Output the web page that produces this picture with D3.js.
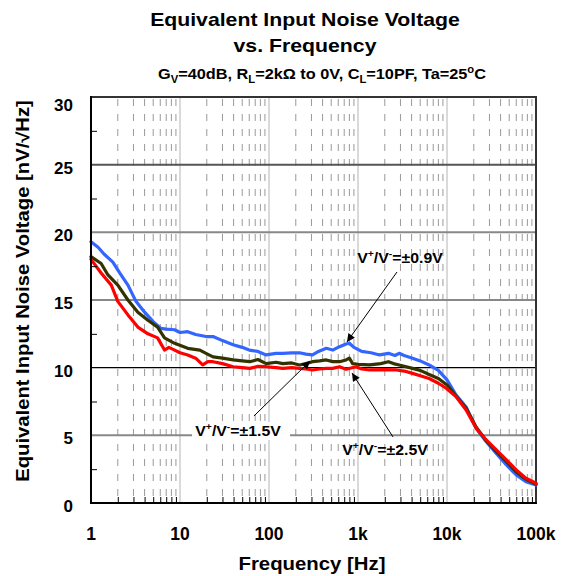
<!DOCTYPE html>
<html><head><meta charset="utf-8">
<script src="https://cdn.jsdelivr.net/npm/d3@7/dist/d3.min.js"></script>
<style>body{margin:0;background:#fff}svg{display:block}text{font-family:"Liberation Sans",Arial,sans-serif;font-weight:bold}</style>
</head><body><svg id="c" width="562" height="576"></svg>
<script>
const xTickValues = [1, 10, 100, 1000, 10000, 100000];
const xTickLabels = ["1", "10", "100", "1k", "10k", "100k"];
const yTickValues = [0, 5, 10, 15, 20, 25, 30];

const freqBlue = [1,1.2,1.4,1.76,2.1,2.6,3.2,4.0,5.0,6.1,7,8.7,10,12.2,15,19.6,23.5,30,39.5,50,60,75,93,120,143,180,220,260,308,360,440,520,620,735,800,900,1100,1400,1750,2200,2600,2900,3300,4100,5000,6300,8000,10000,12600,16400,21300,27600,35800,46500,60000,77000,100000];
const valBlue  = [19.3,18.9,18.4,17.8,17.0,16.1,14.9,14.1,13.4,12.9,12.85,12.8,12.6,12.66,12.45,12.3,12.3,12.0,11.7,11.5,11.3,11.2,10.94,11.05,11.06,11.1,11.1,11.0,10.94,11.2,11.43,11.3,11.55,11.75,11.8,11.5,11.2,11.1,10.94,11.06,10.9,11.06,10.9,10.7,10.5,10.2,9.8,9.1,8.0,7.1,5.5,4.53,3.67,2.81,2.07,1.58,1.33];

const freqOlive = [1,1.3,1.55,2.0,2.6,3.36,4.36,5.6,6.7,8.7,12.2,16.7,19.6,23.5,30,39.5,50,60.8,75,93,120,143,180,220,260,308,370,440,520,620,735,800,870,1000,1350,1800,2200,2500,2900,4100,5000,6300,8000,10100,12600,16400,21300,27600,35800,46500,60000,77000,100000];
const valOlive  = [18.2,17.7,16.85,16.1,15.0,14.1,13.5,13.0,12.2,11.8,11.43,11.3,11.06,10.8,10.7,10.57,10.5,10.44,10.6,10.3,10.4,10.3,10.35,10.2,10.3,10.44,10.5,10.57,10.45,10.44,10.57,10.7,10.3,10.25,10.2,10.3,10.44,10.3,10.2,9.95,9.8,9.5,9.2,8.7,7.9,7.0,5.6,4.6,3.8,3.05,2.3,1.75,1.4];

const freqRed = [1,1.3,1.69,2.0,2.6,3.36,4.36,5.6,6.7,7.5,8.7,10,12.2,15,18,20.6,23.5,30,39.5,50,60.8,75,93,120,143,180,220,260,308,370,440,520,620,735,950,1100,1350,2000,2700,3300,4100,5000,6300,8000,9800,12600,16400,21300,27600,35800,46500,60000,77000,100000];
const valRed  = [18.0,17.0,16.1,14.9,13.9,13.0,12.5,12.2,11.3,11.5,11.3,11.1,10.94,10.7,10.2,10.44,10.44,10.3,10.07,10.0,9.95,10.1,10.07,10.0,9.95,10.0,9.95,9.9,9.83,9.9,9.95,9.95,10.07,9.88,10.07,9.9,9.83,9.85,9.83,9.75,9.58,9.4,9.2,8.85,8.48,7.86,6.87,5.52,4.66,3.92,3.18,2.44,1.83,1.46];

const seriesNames = ["±0.9V", "±1.5V", "±2.5V"];
const seriesColors = ["#3366ff", "#333300", "#ff0000"];

// annotations in data coordinates
const annotLabel = ["±0.9V", "±1.5V", "±2.5V"];
const annotText = [[2965, 17.73], [44.9, 4.95], [2010, 3.55]];
const annotArrow = [[2742, 17.07, 752, 11.9], [67.8, 6.43, 289, 10.49], [2473, 4.88, 857, 9.6]];

const svg = d3.select("#c");
const L = 91, R = 536, T = 97, B = 503;
const x = d3.scaleLog().domain([1, 100000]).range([L, R]);
const y = d3.scaleLinear().domain([0, 30]).range([B, T]);

// stretch a text (anchored middle at 0,0) to a target width
function fit(sel, cx, cy, w, rot) {
  const bw = sel.node().getBBox().width;
  const s = w / bw;
  sel.attr("transform", `translate(${cx},${cy})${rot ? " rotate(-90)" : ""} scale(${s},1)`);
}

// minor vertical dashed grid
const minors = [];
for (let d = 1; d < 100000; d *= 10) for (let k = 2; k <= 9; k++) minors.push(d * k);
svg.append("g").selectAll("line").data(minors).join("line")
  .attr("x1", d => x(d)).attr("x2", d => x(d)).attr("y1", T + 2).attr("y2", B)
  .attr("stroke", "#999").attr("stroke-width", 1).attr("stroke-dasharray", "7,8");
// decade lines
svg.append("g").selectAll("line").data([10, 100, 1000, 10000]).join("line")
  .attr("x1", d => x(d)).attr("x2", d => x(d)).attr("y1", T).attr("y2", B)
  .attr("stroke", "#b4b4b4").attr("stroke-width", 1);
// horizontal grid
svg.append("g").selectAll("line").data([5, 15, 20, 25]).join("line")
  .attr("x1", L).attr("x2", R).attr("y1", d => y(d)).attr("y2", d => y(d))
  .attr("stroke", d => d === 25 ? "#555" : "#888").attr("stroke-width", 2);
svg.append("line").attr("x1", L).attr("x2", R).attr("y1", y(10)).attr("y2", y(10))
  .attr("stroke", "#000").attr("stroke-width", 1.2);
// borders
svg.append("line").attr("x1", L).attr("x2", R + 1).attr("y1", T).attr("y2", T).attr("stroke", "#333").attr("stroke-width", 2);
svg.append("line").attr("x1", R).attr("x2", R).attr("y1", T).attr("y2", B).attr("stroke", "#333").attr("stroke-width", 2);

// curves
const line = d3.line().x(d => x(d[0])).y(d => y(d[1])).curve(d3.curveLinear);
const series = [d3.zip(freqBlue, valBlue), d3.zip(freqOlive, valOlive), d3.zip(freqRed, valRed)];
svg.append("g").selectAll("path").data(series).join("path")
  .attr("d", line).attr("fill", "none")
  .attr("stroke", (d, i) => seriesColors[i]).attr("stroke-width", 3.2)
  .attr("stroke-linejoin", "round").attr("stroke-linecap", "round");

// axes
const gx = svg.append("g").attr("transform", `translate(0,${B})`).call(d3.axisBottom(x).tickValues(minors).tickSize(-6).tickFormat(""));
gx.select(".domain").remove();
gx.selectAll(".tick line").attr("stroke", "#000");
svg.append("line").attr("x1", L - 1).attr("x2", R + 1).attr("y1", B).attr("y2", B).attr("stroke", "#000").attr("stroke-width", 2);
const yMinor = d3.range(2.5, 30, 5);
const gy = svg.append("g").attr("transform", `translate(${L},0)`).call(d3.axisLeft(y).tickValues(yMinor).tickSize(-6).tickFormat(""));
gy.select(".domain").remove();
gy.selectAll(".tick line").attr("stroke", "#000");
svg.append("line").attr("x1", L).attr("x2", L).attr("y1", T - 1).attr("y2", B + 1).attr("stroke", "#000").attr("stroke-width", 2);

// tick labels
svg.append("g").selectAll("text").data(xTickValues).join("text")
  .attr("x", d => x(d)).attr("y", 540).attr("text-anchor", "middle")
  .attr("font-size", 17.5).text((d, i) => xTickLabels[i]);
svg.append("g").selectAll("text").data(yTickValues).join("text")
  .attr("x", 73).attr("y", d => y(d) + (d === 30 ? 14 : 9)).attr("text-anchor", "end")
  .attr("font-size", 17).text(d => d);

// axis titles
fit(svg.append("text").attr("text-anchor", "middle").attr("font-size", 18).text("Frequency [Hz]"), 312, 570, 147);
fit(svg.append("text").attr("text-anchor", "middle").attr("font-size", 17.5).text("Equivalent Input Noise Voltage [nV/√Hz]"), 29, 291, 382, true);

// titles
fit(svg.append("text").attr("text-anchor", "middle").attr("font-size", 18).text("Equivalent Input Noise Voltage"), 305, 26, 310);
fit(svg.append("text").attr("text-anchor", "middle").attr("font-size", 18).text("vs. Frequency"), 305, 52, 143);
const sub = svg.append("text").attr("text-anchor", "middle").attr("font-size", 14.5);
[["G", 0], ["V", 1], ["=40dB, R", 0], ["L", 1], ["=2kΩ to 0V, C", 0], ["L", 1], ["=10PF, Ta=25", 0], ["o", -1], ["C", 0]].forEach(([t, s], i, arr) => {
  const ts = sub.append("tspan").text(t);
  const prev = i > 0 ? arr[i - 1][1] : 0;
  if (s === 1) ts.attr("font-size", 10).attr("dy", 4);
  else if (s === -1) ts.attr("font-size", 10).attr("dy", -6);
  else ts.attr("dy", prev === 1 ? -4 : prev === -1 ? 6 : 0);
});
fit(sub, 322, 79, 329);

// annotations
const defs = svg.append("defs");
defs.append("marker").attr("id", "ah").attr("viewBox", "0 0 10 10").attr("refX", 10).attr("refY", 5)
  .attr("markerWidth", 11).attr("markerHeight", 8).attr("markerUnits", "userSpaceOnUse").attr("orient", "auto")
  .append("path").attr("d", "M0,0 L10,5 L0,10 z").attr("fill", "#000");
svg.append("g").selectAll("line").data(annotArrow).join("line")
  .attr("x1", d => x(d[0])).attr("y1", d => y(d[1])).attr("x2", d => x(d[2])).attr("y2", d => y(d[3]))
  .attr("stroke", "#000").attr("stroke-width", 1).attr("marker-end", "url(#ah)");
annotText.forEach((p, i) => {
  const cx = x(p[0]), cy = y(p[1]);
  if (i === 1) svg.append("rect").attr("x", cx - 46).attr("y", cy - 14).attr("width", 98).attr("height", 18).attr("fill", "#fff");
  const t = svg.append("text").attr("text-anchor", "middle").attr("font-size", 14.5);
  t.append("tspan").text("V");
  t.append("tspan").attr("font-size", 9.5).attr("dy", -6).text("+");
  t.append("tspan").attr("dy", 6).text("/V");
  t.append("tspan").attr("font-size", 9.5).attr("dy", -6).text("-");
  t.append("tspan").attr("dy", 6).text("=" + annotLabel[i]);
  fit(t, cx, cy, 86);
});
</script></body></html>
